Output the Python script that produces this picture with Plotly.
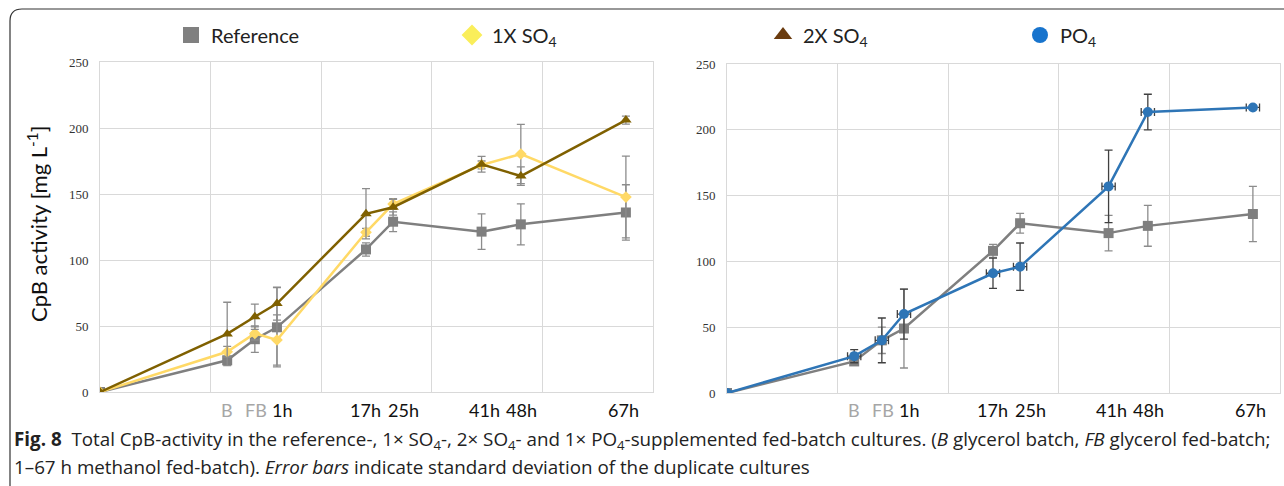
import plotly.graph_objects as go

# ---------------- data ----------------
time_x = [0, 23, 28, 32, 48.1, 53, 69, 76.1, 95.1]
time_labels = ["B", "FB", "1h", "17h", "25h", "41h", "48h", "67h"]
label_colors = ["#A6A6A6", "#A6A6A6", "#111111", "#111111", "#111111", "#111111", "#111111", "#111111"]

ref_y = [0, 24, 40, 49, 108, 129, 121.5, 127, 136]
ref_err = [0, 3, 10, 30, 5, 7.5, 13.5, 15.5, 21]

so4_1x_y = [0, 30.5, 44.4, 39.4, 121, 142.4, 172, 180.3, 147.7]
so4_1x_err = [0, 4, 5, 19, 3, 4, 3, 22.5, 31]

so4_2x_y = [0, 44, 57, 67, 135, 140, 172.5, 163.6, 206]
so4_2x_err = [0, 24, 9.5, 12.5, 19, 6, 6, 7, 3]

po4_y = [0, 28, 40, 60, 91, 96, 157, 213.5, 217]
po4_err = [0, 5, 17, 19, 11.5, 18, 27.5, 13.5, 1.5]
po4_xerr = [0, 1.2, 1.2, 1.2, 1.2, 1.2, 1.2, 1.2, 1.2]

C_REF = "#7F7F7F"
C_1X = "#FFD966"
C_2X = "#7F6000"
C_PO4 = "#2E75B6"
C_ERR = "#8C8C8C"

W, H = 1284, 486


def px(x):
    return x / W


def py(y):
    return 1 - y / H


fig = go.Figure()


def series(x, y, err, color, symbol, size, xa, ya, errcolor, xerr=None):
    kw = dict(
        x=x, y=y, mode="lines+markers", xaxis=xa, yaxis=ya, showlegend=False,
        line=dict(color=color, width=2.5),
        marker=dict(color=color, symbol=symbol, size=size),
        error_y=dict(type="data", array=err, color=errcolor, thickness=1.3, width=4),
        hoverinfo="skip",
    )
    if xerr is not None:
        kw["error_x"] = dict(type="data", array=xerr, color=errcolor, thickness=1.3, width=4)
    fig.add_trace(go.Scatter(**kw))


# left panel
series(time_x, ref_y, ref_err, C_REF, "square", 10, "x", "y", C_ERR)
series(time_x, so4_1x_y, so4_1x_err, C_1X, "diamond", 9, "x", "y", C_ERR)
series(time_x, so4_2x_y, so4_2x_err, C_2X, "triangle-up", 10, "x", "y", C_ERR)
# right panel
series(time_x, ref_y, ref_err, C_REF, "square", 10, "x2", "y2", C_ERR)
series(time_x, po4_y, po4_err, C_PO4, "circle", 10, "x2", "y2", "#404040", xerr=po4_xerr)

# legend-only entries (one legend each, placed like the reference)
legend_items = [
    ("Reference", "#808080", "square", "legend", 193),
    ("1X SO<sub>4</sub>", "#FAEE5A", "diamond", "legend2", 474),
    ("2X SO<sub>4</sub>", "#6B3C0F", "triangle-up", "legend3", 785),
    ("PO<sub>4</sub>", "#1874CD", "circle", "legend4", 1042),
]
for name, col, sym, lg, _ in legend_items:
    fig.add_trace(go.Scatter(x=[None], y=[None], mode="markers", name=name,
                             marker=dict(color=col, symbol=sym, size=16),
                             legend=lg, showlegend=True, xaxis="x", yaxis="y"))

leg_font = dict(family="Lato, Open Sans, sans-serif", size=20, color="#222222")
legend_layouts = {}
for name, col, sym, lg, cx in legend_items:
    legend_layouts[lg] = dict(
        x=px(cx - 22), y=py(35), xanchor="left", yanchor="middle",
        orientation="h", font=leg_font, bgcolor="rgba(0,0,0,0)",
        itemsizing="trace", borderwidth=0,
    )

axis_common = dict(
    range=[0, 100], dtick=20, tick0=0, showgrid=True, gridcolor="#D9D9D9", gridwidth=1,
    zeroline=False, showticklabels=False, showline=True, linecolor="#D9D9D9", mirror=True,
    ticks="", automargin=False,
)
yaxis_common = dict(
    range=[0, 250], dtick=50, tick0=0, showgrid=True, gridcolor="#D9D9D9", gridwidth=1,
    zeroline=False, showline=True, linecolor="#D9D9D9", mirror=True, ticks="",
    tickfont=dict(family="Liberation Serif, serif", size=13, color="#333333"),
    ticklabelstandoff=8, automargin=False,
)

fig.update_layout(
    width=W, height=H, autosize=False,
    margin=dict(l=0, r=0, t=0, b=0, pad=0, autoexpand=False),
    paper_bgcolor="white", plot_bgcolor="white",
    xaxis=dict(domain=[px(100), px(653)], anchor="y", **axis_common),
    yaxis=dict(domain=[py(392), py(62)], anchor="x", **yaxis_common),
    xaxis2=dict(domain=[px(727), px(1280)], anchor="y2", **axis_common),
    yaxis2=dict(domain=[py(393), py(64)], anchor="x2", **yaxis_common),
    **legend_layouts,
)

annotations = []
# time labels under both panels (small pixel nudges keep neighbours apart)
label_nudge = [0, 1, 5, 0, 10, 3, 1, -2]
for xa in ["x", "x2"]:
    for xv, lab, col, dx in zip(time_x[1:], time_labels, label_colors, label_nudge):
        annotations.append(dict(
            x=xv, xref=xa, y=py(410), yref="paper", text=lab, showarrow=False,
            xanchor="center", yanchor="middle", xshift=dx,
            font=dict(family="Lato, Open Sans, sans-serif", size=18, color=col),
        ))

# y-axis title
annotations.append(dict(
    x=px(37), y=py(224), xref="paper", yref="paper", textangle=-90,
    text="CpB activity [mg L<sup>-1</sup>]", showarrow=False,
    font=dict(family="Lato, Open Sans, sans-serif", size=22, color="#111111"),
    xanchor="center", yanchor="middle",
))

cap_font = dict(family="Open Sans, Noto Sans, sans-serif", size=18.8, color="#222222")
annotations.append(dict(
    x=px(12), y=py(440), xref="paper", yref="paper", showarrow=False,
    xanchor="left", yanchor="middle", align="left", font=cap_font,
    text=("<b>Fig. 8</b>  Total CpB-activity in the reference-, 1× SO<sub>4</sub>-, "
          "2× SO<sub>4</sub>- and 1× PO<sub>4</sub>-supplemented fed-batch cultures. "
          "(<i>B</i> glycerol batch, <i>FB</i> glycerol fed-batch;"),
))
annotations.append(dict(
    x=px(12), y=py(467), xref="paper", yref="paper", showarrow=False,
    xanchor="left", yanchor="middle", align="left", font=cap_font,
    text=("1–67 h methanol fed-batch). <i>Error bars</i> indicate standard deviation "
          "of the duplicate cultures"),
))
fig.update_layout(annotations=annotations)

# rounded figure frame (top + left edges visible)
fig.add_shape(
    type="path", xref="paper", yref="paper",
    path=(f"M 1.01,{py(9)} L {px(22)},{py(9)} Q {px(10)},{py(9)} {px(10)},{py(21)} "
          f"L {px(10)},{py(490)}"),
    line=dict(color="#333333", width=1.2),
)

post = (
    "var d=document.getElementById('{plot_id}');"
    "d.style.position='fixed';d.style.top='0px';d.style.left='0px';"
    "document.documentElement.style.margin='0';document.documentElement.style.padding='0';"
    "document.documentElement.style.overflow='hidden';"
    "document.body.style.margin='0';document.body.style.padding='0';"
    "document.body.style.overflow='hidden';document.body.style.height='486px';"
)
fig.write_html("out.html", post_script=post, config={"displayModeBar": False})
